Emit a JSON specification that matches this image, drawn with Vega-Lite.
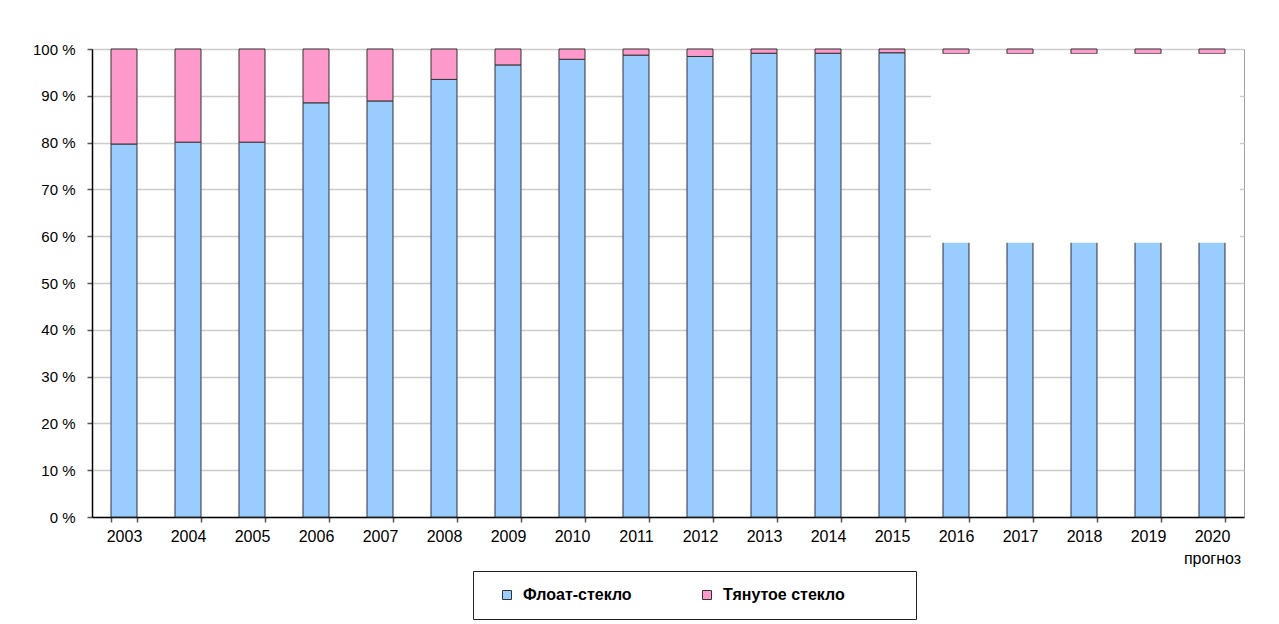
{
  "$schema": "https://vega.github.io/schema/vega-lite/v6.json",
  "autosize": {"type": "none"},
  "width": 1152,
  "height": 468,
  "padding": {"left": 92, "top": 49, "right": 35, "bottom": 107},
  "background": "white",
  "config": {
    "font": "Liberation Sans",
    "view": {"stroke": "#a0a0a0", "strokeWidth": 1},
    "axisX": {
      "domainColor": "#000000", "domainWidth": 1.5,
      "tickColor": "#555555", "tickSize": 5, "tickWidth": 1.5, "tickBand": "extent",
      "labelFontSize": 16, "labelColor": "#000000", "labelPadding": 6, "labelAngle": 0,
      "labelLineHeight": 22, "grid": false, "title": null
    },
    "axisY": {
      "domainColor": "#000000", "domainWidth": 1.5,
      "tickColor": "#555555", "tickSize": 5, "tickWidth": 1.5,
      "labelFontSize": 15, "labelColor": "#000000", "labelPadding": 12,
      "grid": true, "gridColor": "#cccccc", "gridWidth": 1.5, "title": null
    }
  },
  "datasets": {
    "bars": [
      {"year": "2003", "type": "Флоат-стекло", "ord": 1, "v": 79.7},
      {"year": "2003", "type": "Тянутое стекло", "ord": 2, "v": 20.3},
      {"year": "2004", "type": "Флоат-стекло", "ord": 1, "v": 80.1},
      {"year": "2004", "type": "Тянутое стекло", "ord": 2, "v": 19.9},
      {"year": "2005", "type": "Флоат-стекло", "ord": 1, "v": 80.1},
      {"year": "2005", "type": "Тянутое стекло", "ord": 2, "v": 19.9},
      {"year": "2006", "type": "Флоат-стекло", "ord": 1, "v": 88.5},
      {"year": "2006", "type": "Тянутое стекло", "ord": 2, "v": 11.5},
      {"year": "2007", "type": "Флоат-стекло", "ord": 1, "v": 88.9},
      {"year": "2007", "type": "Тянутое стекло", "ord": 2, "v": 11.1},
      {"year": "2008", "type": "Флоат-стекло", "ord": 1, "v": 93.5},
      {"year": "2008", "type": "Тянутое стекло", "ord": 2, "v": 6.5},
      {"year": "2009", "type": "Флоат-стекло", "ord": 1, "v": 96.6},
      {"year": "2009", "type": "Тянутое стекло", "ord": 2, "v": 3.4},
      {"year": "2010", "type": "Флоат-стекло", "ord": 1, "v": 97.8},
      {"year": "2010", "type": "Тянутое стекло", "ord": 2, "v": 2.2},
      {"year": "2011", "type": "Флоат-стекло", "ord": 1, "v": 98.7},
      {"year": "2011", "type": "Тянутое стекло", "ord": 2, "v": 1.3},
      {"year": "2012", "type": "Флоат-стекло", "ord": 1, "v": 98.4},
      {"year": "2012", "type": "Тянутое стекло", "ord": 2, "v": 1.6},
      {"year": "2013", "type": "Флоат-стекло", "ord": 1, "v": 99.1},
      {"year": "2013", "type": "Тянутое стекло", "ord": 2, "v": 0.9},
      {"year": "2014", "type": "Флоат-стекло", "ord": 1, "v": 99.1},
      {"year": "2014", "type": "Тянутое стекло", "ord": 2, "v": 0.9},
      {"year": "2015", "type": "Флоат-стекло", "ord": 1, "v": 99.2},
      {"year": "2015", "type": "Тянутое стекло", "ord": 2, "v": 0.8},
      {"year": "2016", "type": "Флоат-стекло", "ord": 1, "v": 99.0},
      {"year": "2016", "type": "Тянутое стекло", "ord": 2, "v": 1.0},
      {"year": "2017", "type": "Флоат-стекло", "ord": 1, "v": 99.0},
      {"year": "2017", "type": "Тянутое стекло", "ord": 2, "v": 1.0},
      {"year": "2018", "type": "Флоат-стекло", "ord": 1, "v": 99.0},
      {"year": "2018", "type": "Тянутое стекло", "ord": 2, "v": 1.0},
      {"year": "2019", "type": "Флоат-стекло", "ord": 1, "v": 99.0},
      {"year": "2019", "type": "Тянутое стекло", "ord": 2, "v": 1.0},
      {"year": "2020", "type": "Флоат-стекло", "ord": 1, "v": 99.0},
      {"year": "2020", "type": "Тянутое стекло", "ord": 2, "v": 1.0}
    ],
    "box": [
      {"start": "2016", "end": "2020", "lo": 58.6, "hi": 99.0}
    ]
  },
  "layer": [
    {
      "data": {"name": "bars"},
      "mark": {"type": "bar", "stroke": "#333333", "strokeWidth": 1},
      "encoding": {
        "x": {
          "field": "year", "type": "nominal", "sort": null,
          "scale": {"paddingInner": 0.594, "paddingOuter": 0.297},
          "axis": {"labelExpr": "datum.value == '2020' ? ['2020', 'прогноз'] : datum.value"}
        },
        "y": {
          "field": "v", "type": "quantitative", "stack": "zero",
          "scale": {"domain": [0, 100], "nice": false},
          "axis": {"values": [0, 10, 20, 30, 40, 50, 60, 70, 80, 90, 100], "labelExpr": "datum.value + ' %'"}
        },
        "color": {
          "field": "type", "type": "nominal",
          "scale": {"domain": ["Флоат-стекло", "Тянутое стекло"], "range": ["#99ccff", "#ff99cc"]},
          "legend": {
            "orient": "none", "legendX": 381, "legendY": 522, "direction": "horizontal",
            "title": " ", "titleOrient": "right", "titlePadding": 55, "titleFontSize": 10,
            "strokeColor": "#222222", "fillColor": "white", "padding": 16,
            "symbolType": "square", "symbolSize": 81, "symbolOffset": 10,
            "symbolStrokeColor": "#333333", "symbolStrokeWidth": 1,
            "labelFontSize": 16, "labelFontWeight": "bold", "labelColor": "#000000",
            "columnPadding": 57, "labelOffset": 8
          }
        },
        "order": {"field": "ord", "type": "quantitative"}
      }
    },
    {
      "data": {"name": "box"},
      "mark": {"type": "rect", "fill": "white", "stroke": null},
      "encoding": {
        "x": {"field": "start", "type": "nominal", "bandPosition": -0.46},
        "x2": {"field": "end", "bandPosition": 1.58},
        "y": {"field": "lo", "type": "quantitative"},
        "y2": {"field": "hi"}
      }
    }
  ]
}
